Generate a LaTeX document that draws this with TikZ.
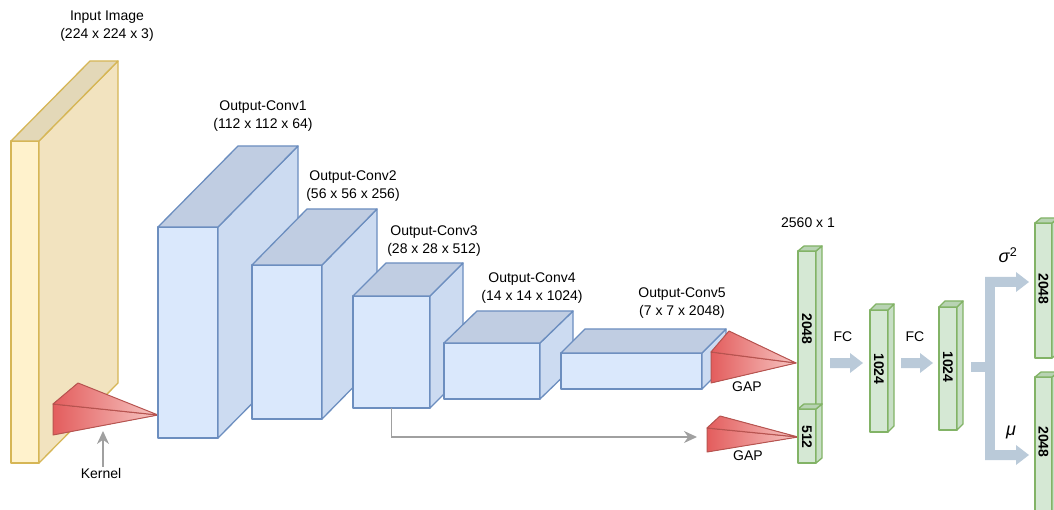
\documentclass[tikz,border=0pt]{standalone}
\usepackage{fontspec}
\setmainfont{Liberation Sans}
\usetikzlibrary{arrows.meta,calc}

\definecolor{bfrontc}{HTML}{DAE8FC}
\definecolor{bsidec}{HTML}{CCDBF1}
\definecolor{btopc}{HTML}{C0CDE2}
\definecolor{bline}{HTML}{6C8EBF}
\definecolor{yfrontc}{HTML}{FFF2CC}
\definecolor{ysidec}{HTML}{F2E3BF}
\definecolor{ytopc}{HTML}{E3D8B8}
\definecolor{yline}{HTML}{D6B656}
\definecolor{gfrontc}{HTML}{D5E8D4}
\definecolor{gsidec}{HTML}{C8DFC6}
\definecolor{gtopc}{HTML}{B8D3B3}
\definecolor{gline}{HTML}{82B366}
\definecolor{rdark}{HTML}{E35D5D}
\definecolor{rlight}{HTML}{F6C6C3}
\definecolor{rline}{HTML}{B85450}
\definecolor{fcfill}{HTML}{BACAD9}
\definecolor{skipc}{HTML}{A0A0A0}

\tikzset{
  lbl/.style={font=\fontsize{14}{18}\selectfont, align=center, inner sep=1pt},
  greek/.style={font=\fontsize{18}{20}\selectfont, inner sep=1pt},
  barlbl/.style={font=\fontsize{14}{16}\selectfont\bfseries, rotate=-90, inner sep=0pt},
  face/.style={line width=1.3pt, line join=round, inner sep=0pt, outer sep=0pt},
  bluefront/.style={face, fill=bfrontc, draw=bline},
  blueside/.style={face, fill=bsidec, draw=bline},
  bluetop/.style={face, fill=btopc, draw=bline},
  yelfront/.style={face, fill=yfrontc, draw=yline},
  yelside/.style={face, fill=ysidec, draw=yline},
  yeltop/.style={face, fill=ytopc, draw=yline},
  grnfront/.style={face, fill=gfrontc, draw=gline},
  grnside/.style={face, fill=gsidec, draw=gline},
  grntop/.style={face, fill=gtopc, draw=gline},
  pyr/.style={draw=rline, line width=1pt, line join=round, left color=rdark, right color=rlight},
  skiparrow/.style={draw=skipc, line width=1.4pt, -{Stealth[length=13pt,width=12pt]}},
  fcarrow/.style={fill=fcfill},
}

% cuboid: name, x, y (top-left of front face), width, height, depth dx, depth dy, palette
\newcommand\block[8]{%
  \node[#8front, minimum width=#4pt, minimum height=#5pt, anchor=north west] (#1) at (#2,#3) {};
  \filldraw[#8side] (#1.north east) -- ++(#6,#7) -- ++(0,#5) -- (#1.south east) -- cycle;
  \filldraw[#8top] (#1.north west) -- ++(#6,#7) -- ++(#4,0) -- (#1.north east) -- cycle;
}

% pyramid seen from the side: name, top, middle, bottom, apex
\newcommand\pyramid[5]{%
  \coordinate (#1-t) at #2;
  \coordinate (#1-l) at #3;
  \coordinate (#1-b) at #4;
  \coordinate (#1-a) at #5;
  \filldraw[pyr] (#1-l) -- (#1-b) -- (#1-a) -- cycle;
  \filldraw[pyr] (#1-t) -- (#1-l) -- (#1-a) -- cycle;
}

% broad horizontal arrow from #1 to #2
\newcommand\fatarrow[2]{%
  \fill[fcarrow] ($(#1)+(0,-5)$) -- ($(#2)+(-13,-5)$) -- ($(#2)+(-13,-10)$) -- (#2)
    -- ($(#2)+(-13,10)$) -- ($(#2)+(-13,5)$) -- ($(#1)+(0,5)$) -- cycle;
}

\begin{document}
\begin{tikzpicture}[x=1pt, y=-1pt]
\useasboundingbox (0,0) rectangle (1054,510);
\clip (0,0) rectangle (1054,510);

% input image and convolution outputs
\block{inimg}{11}{141}{28}{322}{79}{-80}{yel}
\pyramid{kern}{(78,383)}{(53,404)}{(53,435)}{(158,415)}
\block{c1}{158}{227}{60}{211}{80}{-81}{blue}
\block{c2}{252}{265}{70}{154}{55}{-56}{blue}
\block{c3}{353}{296}{77}{112}{33}{-33}{blue}
\block{c4}{444}{343}{96}{56}{33}{-32}{blue}
\block{c5}{561}{353}{141}{36}{24}{-24}{blue}

% global average pooling
\pyramid{gap1}{(729,331)}{(711,352)}{(711,383)}{(796,363)}
\pyramid{gap2}{(720,416)}{(707,428)}{(707,452)}{(798,437)}

% feature vectors
\block{v2048}{798}{251}{18}{158}{6}{-5}{grn}
\block{v512}{798}{409}{18}{54}{6}{-5}{grn}
\block{fc1}{870}{310}{18}{122}{6}{-6}{grn}
\block{fc2}{939}{307}{18}{123}{6}{-6}{grn}
\block{sig}{1035}{223}{17}{135}{6}{-5}{grn}
\block{mu}{1035}{377}{17}{150}{6}{-5}{grn}

% labels
\node[lbl] (tin) at (107,26) {Input Image\\(224 x 224 x 3)};
\node[lbl] (tc1) at (263,116) {Output-Conv1\\(112 x 112 x 64)};
\node[lbl] (tc2) at (353,186) {Output-Conv2\\(56 x 56 x 256)};
\node[lbl] (tc3) at (434,241) {Output-Conv3\\(28 x 28 x 512)};
\node[lbl] (tc4) at (532,288) {Output-Conv4\\(14 x 14 x 1024)};
\node[lbl] (tc5) at (682,303) {Output-Conv5\\(7 x 7 x 2048)};
\node[lbl] (tkern) at (101,473) {Kernel};
\node[lbl] (tgap1) at (747,387) {GAP};
\node[lbl] (tgap2) at (748,456) {GAP};
\node[lbl] (tvec) at (808,223) {2560 x 1};
\node[lbl] (tfc1) at (843,337) {FC};
\node[lbl] (tfc2) at (915,337) {FC};
\node[greek] (tsig) at (1008,255) {\textit{σ}\textsuperscript{2}};
\node[greek] (tmu) at (1011,432) {\textit{μ}};

\node[barlbl] at (v2048.center |- 0,329) {2048};
\node[barlbl] at (v512.center |- 0,437) {512};
\node[barlbl] at (fc1.center |- 0,369) {1024};
\node[barlbl] at (fc2.center |- 0,367) {1024};
\node[barlbl] at (sig.center |- 0,289) {2048};
\node[barlbl] at (mu.center |- 0,442) {2048};

% connectors
\coordinate (kerntip) at (103,431);
\draw[skiparrow] (tkern.north -| kerntip) -- (kerntip);
\coordinate (skipend) at (697,437);
\draw[skiparrow] (c3.south) |- (skipend);

\coordinate (a1s) at (830,363);
\coordinate (a1e) at (863,363);
\coordinate (a2s) at (901,363);
\coordinate (a2e) at (933,363);
\fatarrow{a1s}{a1e}
\fatarrow{a2s}{a2e}

% split into the two output heads
\fill[fcarrow] (971,362) rectangle (995,372);
\fill[fcarrow] (985,277) rectangle (995,460);
\coordinate (bs1) at (985,282);
\coordinate (be1) at (1029,282);
\coordinate (bs2) at (985,455);
\coordinate (be2) at (1029,455);
\fatarrow{bs1}{be1}
\fatarrow{bs2}{be2}
\end{tikzpicture}
\end{document}
